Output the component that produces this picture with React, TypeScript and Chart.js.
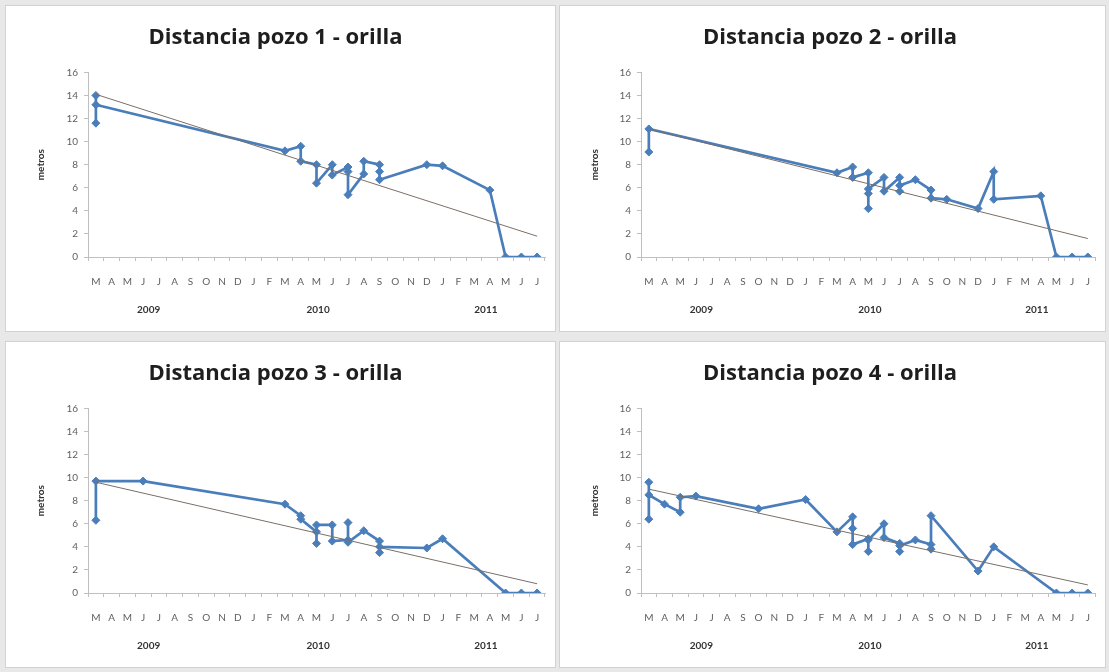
import React, { useEffect, useRef } from 'react';
import { Chart, registerables } from 'chart.js';

Chart.register(...registerables);

// Month categories (Mar 2009 .. Jul 2011), index 0..28
const MONTHS = ['M','A','M','J','J','A','S','O','N','D','J','F','M','A','M','J','J','A','S','O','N','D','J','F','M','A','M','J','J'];
const YEARS = ['2009', '2010', '2011'];
const YEAR_POS = [3.35, 14.1, 24.75];
const Y_MIN = 0;
const Y_MAX = 16;
const Y_STEP = 2;

// Pozo 1
const P1_X = [0,0,0,12,13,13,14,14,15,15,16,16,16,17,17,18,18,18,21,22,25,26,27,28];
const P1_Y = [11.6,14.0,13.2,9.2,9.6,8.3,8.0,6.4,8.0,7.1,7.8,7.4,5.4,7.2,8.3,8.0,7.4,6.7,8.0,7.9,5.8,0,0,0];
const P1_TREND_X = [0, 28];
const P1_TREND_Y = [14.1, 1.8];

// Pozo 2
const P2_X = [0,0,12,13,13,14,14,14,14,15,15,16,16,16,17,18,18,19,21,22,22,25,26,27,28];
const P2_Y = [9.1,11.1,7.3,7.8,6.9,7.3,5.5,4.2,5.9,6.9,5.7,6.9,5.7,6.2,6.7,5.8,5.1,5.0,4.2,7.4,5.0,5.3,0,0,0];
const P2_TREND_X = [0, 28];
const P2_TREND_Y = [11.1, 1.6];

// Pozo 3
const P3_X = [0,0,3,12,13,13,14,14,14,15,15,16,16,16,17,18,18,18,21,22,26,27,28];
const P3_Y = [6.3,9.7,9.7,7.7,6.7,6.4,5.3,4.3,5.9,5.9,4.5,4.6,6.1,4.4,5.4,4.5,3.5,4.0,3.9,4.7,0,0,0];
const P3_TREND_X = [0, 28];
const P3_TREND_Y = [9.6, 0.8];

// Pozo 4
const P4_X = [0,0,0,1,2,2,3,7,10,12,13,13,13,14,14,14,15,15,16,16,16,17,18,18,18,21,22,26,27,28];
const P4_Y = [6.4,9.6,8.5,7.7,7.0,8.3,8.4,7.3,8.1,5.3,6.6,5.6,4.2,4.7,3.6,4.6,6.0,4.8,4.3,3.6,4.1,4.6,4.2,3.8,6.7,1.9,4.0,0,0,0];
const P4_TREND_X = [0, 28];
const P4_TREND_Y = [9.0, 0.7];

const TITLES = [
  'Distancia pozo 1 - orilla',
  'Distancia pozo 2 - orilla',
  'Distancia pozo 3 - orilla',
  'Distancia pozo 4 - orilla',
];

const BLUE = '#4A7EBB';
const TREND = '#7a6f66';
const AXIS = '#bfbfbf';
const TICK_TXT = '#5f5f5f';
const FONT = 'Lato, "Liberation Sans", sans-serif';
const TITLE_FONT = '"Open Sans", Lato, sans-serif';

type PanelProps = {
  title: string;
  xs: number[];
  ys: number[];
  tx: number[];
  ty: number[];
  left: number;
  top: number;
  width: number;
  height: number;
  yAxisW: number;
  rightPad: number;
};

function Panel(p: PanelProps) {
  const ref = useRef<HTMLCanvasElement>(null);
  useEffect(() => {
    const chart = new Chart(ref.current as HTMLCanvasElement, {
      type: 'line',
      data: {
        datasets: [
          {
            data: p.tx.map((x, i) => ({ x, y: p.ty[i] })),
            borderColor: TREND,
            borderWidth: 1,
            pointRadius: 0,
            xAxisID: 'x',
            yAxisID: 'y',
          },
          {
            data: p.xs.map((x, i) => ({ x, y: p.ys[i] })),
            borderColor: BLUE,
            backgroundColor: BLUE,
            borderWidth: 2.7,
            pointStyle: 'rectRot',
            pointRadius: 4,
            pointBackgroundColor: BLUE,
            pointBorderColor: BLUE,
            pointBorderWidth: 1,
            tension: 0,
            xAxisID: 'x',
            yAxisID: 'y',
          },
        ],
      },
      options: {
        responsive: false,
        animation: false,
        events: [],
        layout: { padding: { left: 0, right: p.rightPad, top: 0, bottom: 3 } },
        plugins: {
          legend: { display: false },
          tooltip: { enabled: false },
          title: {
            display: true,
            text: p.title,
            color: '#1e1e1e',
            font: { family: TITLE_FONT, size: 22, weight: 'bold' },
            padding: { top: 19, bottom: 21 },
          },
        },
        scales: {
          x: {
            type: 'linear',
            position: 'bottom',
            min: -0.5,
            max: 28.5,
            afterBuildTicks: (s: any) => {
              s.ticks = MONTHS.map((_, i) => ({ value: i }));
            },
            afterFit: (s: any) => {
              s.height = 31;
            },
            ticks: {
              autoSkip: false,
              maxRotation: 0,
              padding: 15,
              color: TICK_TXT,
              font: { family: FONT, size: 10 },
              callback: (_v: any, i: number) => MONTHS[i],
            },
            grid: { offset: true, drawOnChartArea: false, tickLength: 4, color: AXIS },
            border: { color: AXIS },
          },
          year: {
            type: 'linear',
            position: 'bottom',
            min: -0.5,
            max: 28.5,
            afterBuildTicks: (s: any) => {
              s.ticks = YEAR_POS.map((v) => ({ value: v }));
            },
            afterFit: (s: any) => {
              s.height = 40;
            },
            ticks: {
              autoSkip: false,
              maxRotation: 0,
              padding: 16,
              color: '#333333',
              font: { family: FONT, size: 10, weight: 'bold' },
              callback: (_v: any, i: number) => YEARS[i],
            },
            grid: { display: false, drawTicks: false },
            border: { display: false },
          },
          y: {
            type: 'linear',
            min: Y_MIN,
            max: Y_MAX,
            afterFit: (s: any) => {
              s.width = p.yAxisW;
            },
            ticks: {
              stepSize: Y_STEP,
              padding: 6,
              color: TICK_TXT,
              font: { family: FONT, size: 10 },
            },
            title: {
              display: true,
              text: 'metros',
              color: '#333333',
              font: { family: FONT, size: 10, weight: 'bold' },
              padding: { top: 29, bottom: 0 },
            },
            grid: { drawOnChartArea: false, tickLength: 4, color: AXIS },
            border: { color: AXIS },
          },
        },
      },
    } as any);
    return () => chart.destroy();
  }, []);

  return (
    <div
      style={{
        position: 'absolute',
        left: p.left,
        top: p.top,
        width: p.width,
        height: p.height,
        background: '#ffffff',
        outline: '1px solid #d2d2d2',
      }}
    >
      <canvas ref={ref} width={p.width} height={p.height} style={{ display: 'block' }} />
    </div>
  );
}

export default function App() {
  return (
    <div
      style={{
        position: 'absolute',
        left: 0,
        top: 0,
        width: 1109,
        height: 672,
        background: '#e8e8e8',
        overflow: 'hidden',
      }}
    >
      <Panel title={TITLES[0]} xs={P1_X} ys={P1_Y} tx={P1_TREND_X} ty={P1_TREND_Y}
        left={6} top={6} width={549} height={325} yAxisW={82} rightPad={10} />
      <Panel title={TITLES[1]} xs={P2_X} ys={P2_Y} tx={P2_TREND_X} ty={P2_TREND_Y}
        left={560} top={6} width={545} height={325} yAxisW={81} rightPad={5} />
      <Panel title={TITLES[2]} xs={P3_X} ys={P3_Y} tx={P3_TREND_X} ty={P3_TREND_Y}
        left={6} top={342} width={549} height={325} yAxisW={82} rightPad={10} />
      <Panel title={TITLES[3]} xs={P4_X} ys={P4_Y} tx={P4_TREND_X} ty={P4_TREND_Y}
        left={560} top={342} width={545} height={325} yAxisW={81} rightPad={5} />
    </div>
  );
}
